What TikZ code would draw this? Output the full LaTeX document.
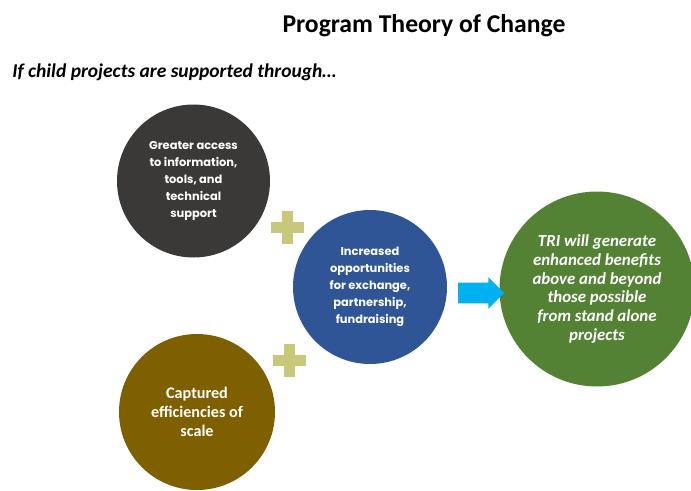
\documentclass[tikz,border=0pt]{standalone}
\usepackage{fontspec}
\setmainfont{Carlito}
\newfontfamily\geofont{Poppins}
\definecolor{darkgrey1}{RGB}{59, 56, 56}
\definecolor{navy1}{RGB}{47, 85, 151}
\definecolor{leafgreen}{RGB}{84, 130, 53}
\definecolor{ochre1}{RGB}{127, 96, 0}
\definecolor{pluslime}{RGB}{200, 200, 122}
\definecolor{skyblue1}{RGB}{0, 176, 240}
\usepackage{tikz}
\usetikzlibrary{shapes.arrows, positioning}

\tikzset{
  bubble/.style={circle, inner sep=0pt, align=center, text=white},
  plusbar/.style={fill=pluslime},
}

\begin{document}
\begin{tikzpicture}
  \useasboundingbox (0, 0) rectangle (13.82, 9.8);

  \node[font=\fontsize{14.6}{18}\selectfont\bfseries] (title) at (8.48, 9.28) {Program Theory of Change};
  \node[anchor=west, inner sep=0pt, font=\fontsize{11.1}{14}\selectfont\bfseries\itshape] (intro) at (0.24, 8.36) {If child projects are supported through\ldots};

  % Input circles
  \node[bubble, fill=darkgrey1, minimum size=3.06cm, font=\geofont\fontsize{6.5}{9.7}\selectfont\bfseries] (access) at (3.87, 6.18) {
    Greater access\\to information,\\tools, and\\technical\\support
  };
  \node[bubble, fill=navy1, minimum size=3.08cm, font=\geofont\fontsize{6.5}{9.7}\selectfont\bfseries] (exchange) at (7.4, 4.06) {
    Increased\\opportunities\\for exchange,\\partnership,\\fundraising
  };
  \node[bubble, fill=ochre1, minimum size=3.12cm, font=\fontsize{9.2}{11}\selectfont\bfseries] (scale) at (3.94, 1.56) {
    Captured\\efficiencies of\\scale
  };

  % Outcome circle
  \node[bubble, fill=leafgreen, minimum size=3.9cm, font=\fontsize{9.6}{10.6}\selectfont\bfseries\itshape] (benefits) at (11.94, 4.02) {
    TRI will generate\\enhanced benefits\\above and beyond\\those possible\\from stand alone\\projects
  };

  % Plus signs between the circles
  \coordinate (plusA) at (5.74, 5.26);
  \coordinate (plusB) at (5.78, 2.6);
  \foreach \p in {plusA, plusB} {
    \fill[plusbar] ([shift={(-0.33, -0.11)}]\p) rectangle ([shift={(0.33, 0.11)}]\p);
    \fill[plusbar] ([shift={(-0.11, -0.33)}]\p) rectangle ([shift={(0.11, 0.33)}]\p);
  }

  % Arrow towards the outcome
  \node[single arrow, fill=skyblue1, inner sep=0pt, text height=0.2cm, text depth=0.2cm, minimum width=0.62cm, minimum height=0.92cm, single arrow head extend=0.11cm] (leads) at (9.52, 3.94) {};
\end{tikzpicture}
\end{document}
